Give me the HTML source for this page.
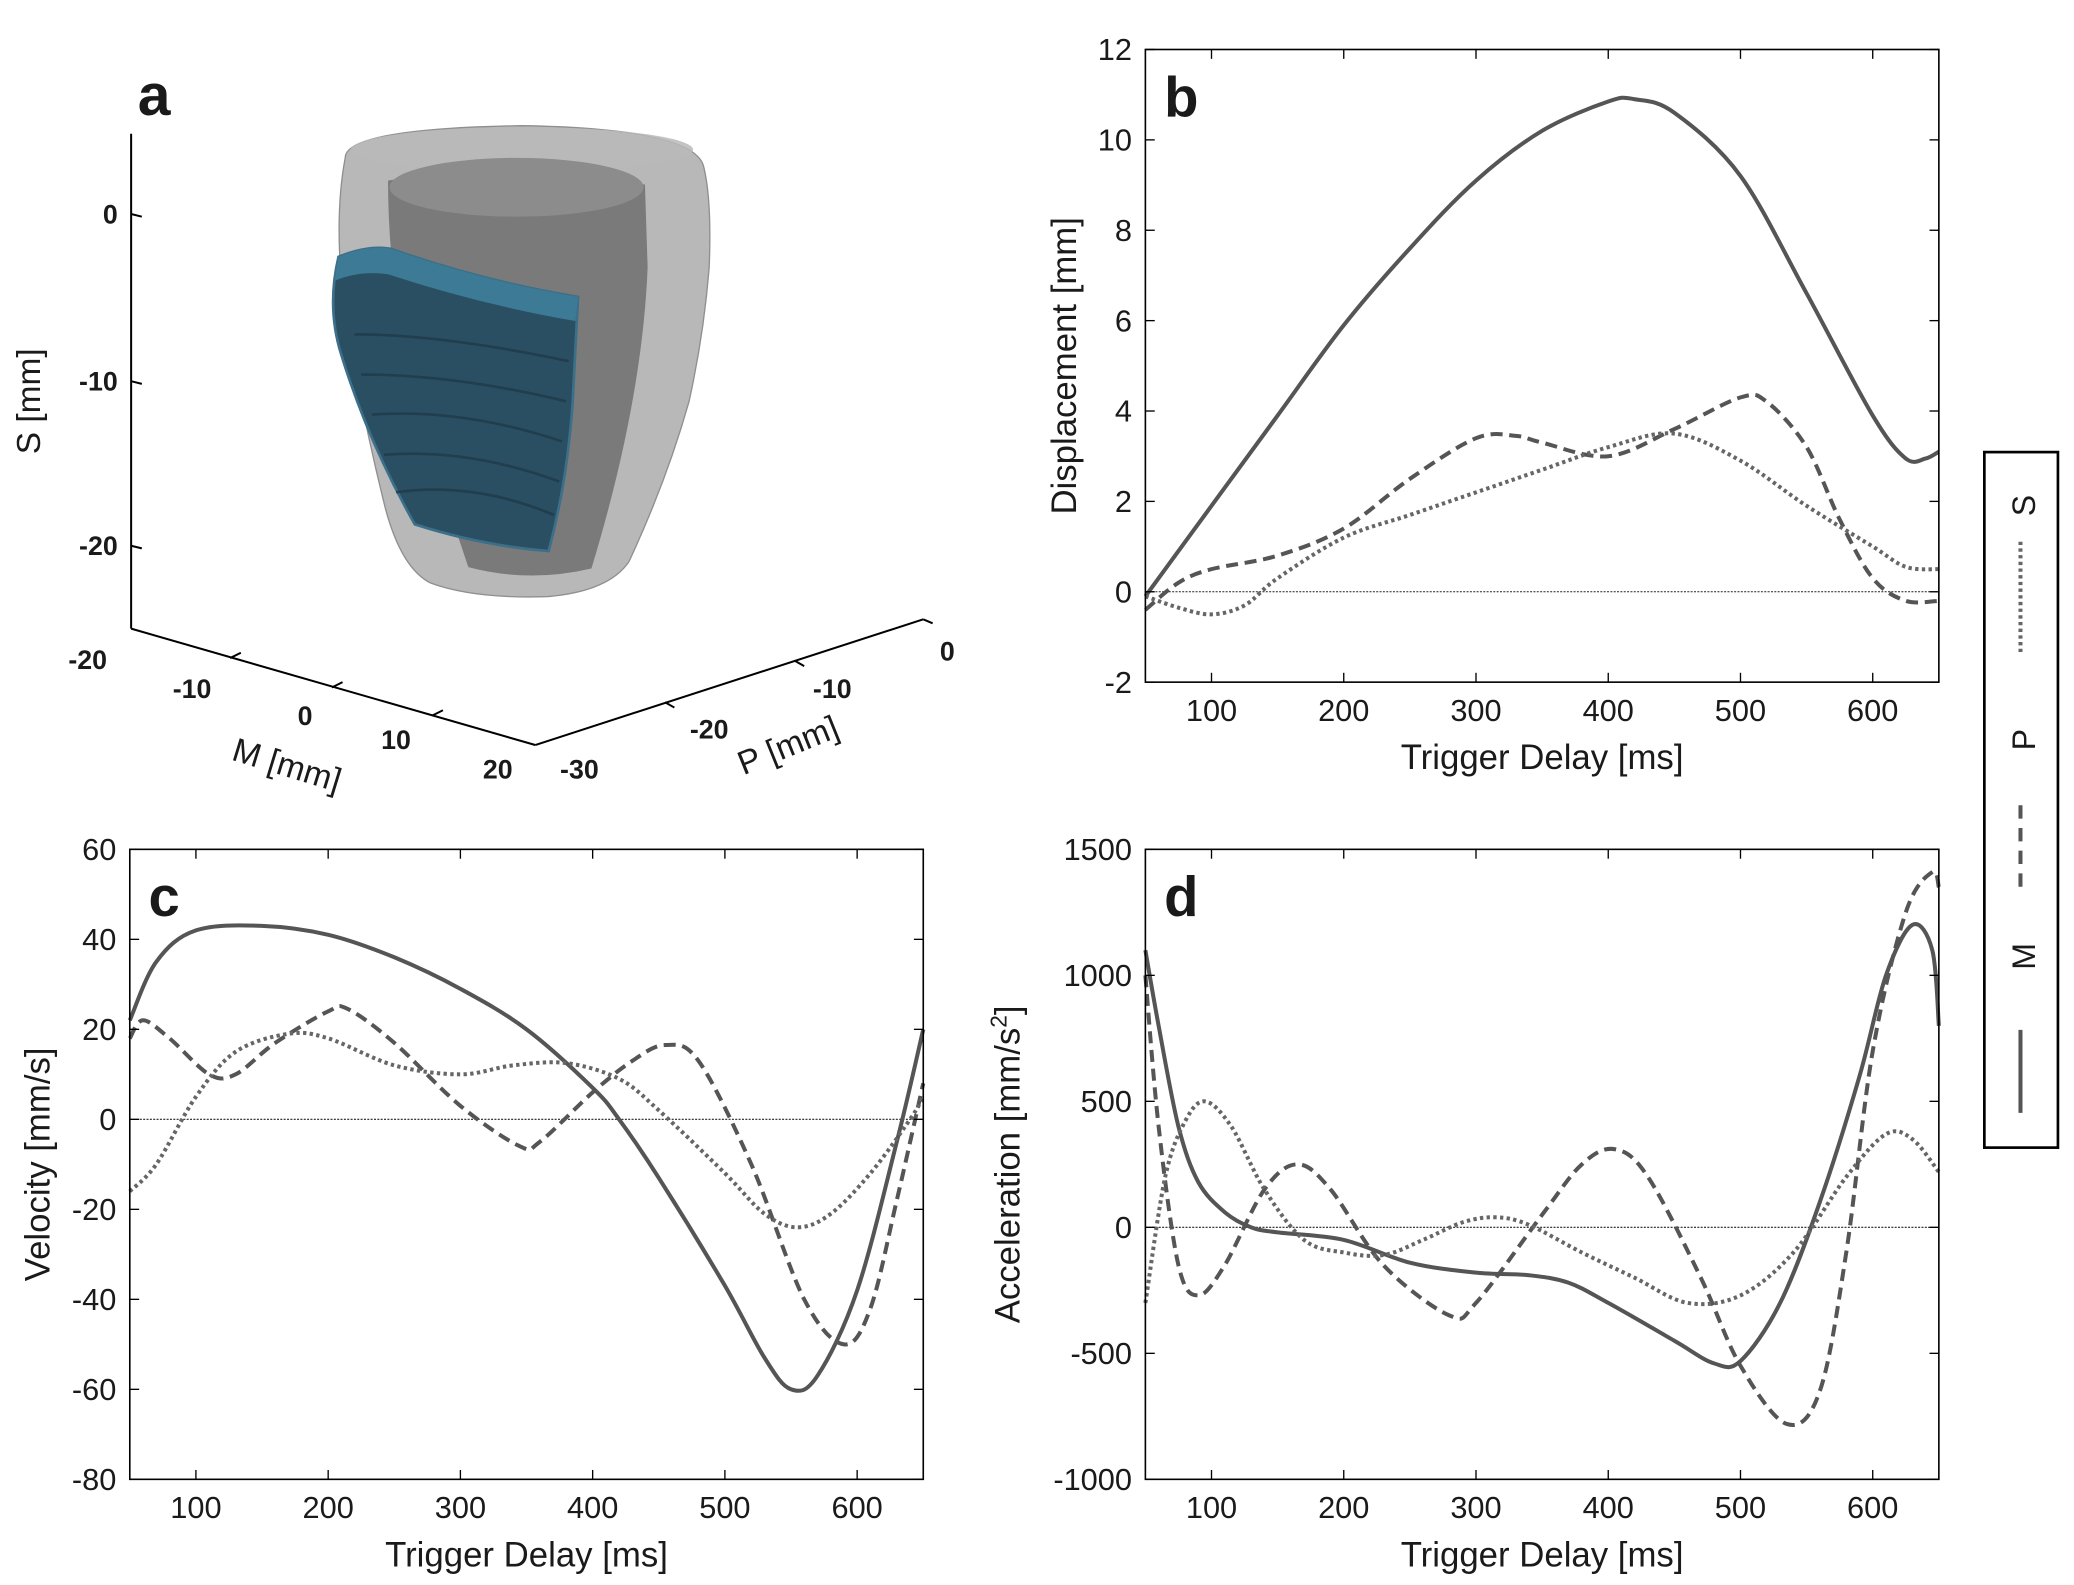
<!DOCTYPE html>
<html><head><meta charset="utf-8"><style>
html,body{margin:0;padding:0;background:#fff;width:2074px;height:1585px;overflow:hidden}
svg{display:block}
text{font-family:"Liberation Sans",Arial,sans-serif;fill:#1a1a1a}
</style></head><body>
<svg id="fig" width="2074" height="1585" viewBox="0 0 1550 1185" preserveAspectRatio="none" xmlns="http://www.w3.org/2000/svg">
<g id="panelA">
  <text x="103" y="86" font-size="44" font-weight="bold">a</text>
  <path d="M258,118 Q258,96 390,94 Q520,96 526,125 Q532,150 530,200 Q526,250 515,300 Q498,360 470,420 Q455,442 410,446 Q355,448 322,436 Q300,425 288,380 Q268,300 256,220 Q250,160 258,118 Z" fill="#a6a6a6" fill-opacity="0.8" stroke="#8f8f8f"/>
  <ellipse cx="390" cy="112" rx="128" ry="17" fill="#b8b8b8" opacity="0.85"/>
  <path d="M290,135 Q385,118 482,138 L484,200 Q480,300 442,425 Q395,436 350,424 Q318,330 300,250 Q290,190 290,135 Z" fill="#6e6e6e" fill-opacity="0.85"/>
  <ellipse cx="386" cy="140" rx="95" ry="22" fill="#8c8c8c"/>
  <path d="M253,192 Q275,183 292,186 Q360,210 432,222 L428,300 Q424,360 410,412 Q360,408 310,392 Q275,330 255,265 Q244,230 253,192 Z" fill="#2b4f62" stroke="#3c6f89" stroke-width="2"/>
  <path d="M253,192 Q275,183 292,186 Q360,210 432,222 L430,240 Q360,228 290,205 Q268,202 250,210 Z" fill="#3d7a96"/>
  <g stroke="#1f3a48" stroke-width="2" fill="none" opacity="0.8">
    <path d="M265,250 Q330,250 425,270"/><path d="M270,280 Q340,280 423,300"/><path d="M278,310 Q345,305 420,330"/><path d="M287,340 Q350,335 418,360"/><path d="M296,368 Q355,360 414,385"/>
  </g>
  <g stroke="#000" stroke-width="1.5" fill="none">
    <line x1="98" y1="100" x2="98" y2="470"/>
    <line x1="98" y1="470" x2="400" y2="557"/>
    <line x1="400" y1="557" x2="690" y2="463"/>
    <line x1="98" y1="160" x2="106" y2="162"/><line x1="98" y1="285" x2="106" y2="287"/><line x1="98" y1="408" x2="106" y2="410"/>
    <line x1="172" y1="492" x2="180" y2="488"/><line x1="248" y1="514" x2="256" y2="510"/><line x1="323" y1="535" x2="331" y2="531"/>
    <line x1="497" y1="525" x2="504" y2="529"/><line x1="594" y1="494" x2="601" y2="498"/><line x1="690" y1="463" x2="697" y2="466"/>
  </g>
  <g font-size="20" font-weight="bold">
    <text x="88" y="167" text-anchor="end">0</text>
    <text x="88" y="292" text-anchor="end">-10</text>
    <text x="88" y="415" text-anchor="end">-20</text>
    <text x="80" y="500" text-anchor="end">-20</text>
    <text x="158" y="522" text-anchor="end">-10</text>
    <text x="228" y="542" text-anchor="middle">0</text>
    <text x="296" y="560" text-anchor="middle">10</text>
    <text x="372" y="582" text-anchor="middle">20</text>
    <text x="433" y="582" text-anchor="middle">-30</text>
    <text x="530" y="552" text-anchor="middle">-20</text>
    <text x="622" y="522" text-anchor="middle">-10</text>
    <text x="708" y="494" text-anchor="middle">0</text>
  </g>
  <text transform="translate(30,300) rotate(-90)" font-size="25" text-anchor="middle">S [mm]</text>
  <text transform="translate(212,580) rotate(17)" font-size="25" text-anchor="middle">M [mm]</text>
  <text transform="translate(592,565) rotate(-22)" font-size="25" text-anchor="middle">P [mm]</text>
</g>
<g id="plots"></g>
<g id="legend">
  <rect x="1483" y="338" width="55" height="520" fill="#fff" stroke="#000" stroke-width="2"/>
  <line x1="1510" y1="770" x2="1510" y2="832" stroke="#555" stroke-width="3"/>
  <text transform="translate(1521,715) rotate(-90)" font-size="24" text-anchor="middle">M</text>
  <line x1="1510" y1="602" x2="1510" y2="666" stroke="#555" stroke-width="3" stroke-dasharray="10,7"/>
  <text transform="translate(1521,553) rotate(-90)" font-size="24" text-anchor="middle">P</text>
  <line x1="1510" y1="405" x2="1510" y2="490" stroke="#666" stroke-width="3" stroke-dasharray="2.5,2.5"/>
  <text transform="translate(1521,378) rotate(-90)" font-size="24" text-anchor="middle">S</text>
</g>
</svg>
<script>
const xTicks = [100,200,300,400,500,600];
const dispTicks = [-2,0,2,4,6,8,10,12];
const velTicks = [-80,-60,-40,-20,0,20,40,60];
const accTicks = [-1000,-500,0,500,1000,1500];

const dispMx = [50,100,150,200,250,300,350,400,420,450,500,550,600,625,640,650];
const dispM  = [-0.1,1.9,3.9,5.9,7.6,9.1,10.2,10.85,10.9,10.6,9.2,6.6,3.9,2.95,2.95,3.1];
const dispPx = [50,75,100,150,200,250,300,330,350,400,450,500,520,550,575,600,625,650];
const dispP  = [-0.4,0.2,0.5,0.8,1.4,2.5,3.4,3.45,3.3,3.0,3.6,4.3,4.2,3.2,1.6,0.3,-0.2,-0.2];
const dispSx = [50,75,100,125,150,200,250,300,350,400,450,500,550,600,625,650];
const dispS  = [-0.1,-0.35,-0.5,-0.3,0.3,1.2,1.7,2.2,2.7,3.2,3.5,2.9,1.9,1.0,0.55,0.5];

const velMx = [50,70,100,150,200,250,300,350,400,420,450,500,530,550,570,600,630,650];
const velM  = [22,35,42,43,41,36,29,20,7,0,-13,-37,-53,-60,-57,-38,-5,20];
const velPx = [50,60,80,110,130,160,200,215,250,300,345,360,400,430,455,480,520,560,590,610,630,650];
const velP  = [18,22,18,10,10,17,24,24.5,17,3,-6,-5,6,13,16.5,13,-10,-40,-50,-42,-18,8];
const velSx = [50,70,100,130,170,200,250,300,340,380,420,450,500,530,555,580,610,640,650];
const velS  = [-16,-10,5,15,19,18,12,10,12,12.5,9,2,-12,-21,-24,-21,-12,0,5];

const accMx = [50,60,75,90,110,130,150,200,250,300,340,370,400,450,480,500,530,560,590,610,630,645,650];
const accM  = [1100,800,400,180,60,0,-20,-50,-140,-180,-190,-220,-300,-450,-540,-530,-300,100,600,1000,1200,1100,800];
const accPx = [50,60,75,90,110,140,165,190,230,280,300,350,380,405,430,470,500,535,560,580,600,625,645,650];
const accP  = [1000,400,-150,-270,-150,150,250,150,-150,-350,-300,50,250,310,200,-200,-550,-780,-650,-100,700,1250,1410,1350];
const accSx = [50,65,80,95,115,140,170,200,230,260,290,315,340,380,420,460,500,540,580,610,630,650];
const accS  = [-300,200,420,500,400,150,-50,-100,-110,-50,20,40,10,-100,-200,-300,-270,-100,200,370,350,220];

const NS='http://www.w3.org/2000/svg';
const root=document.getElementById('plots');
function mk(tag,attrs,parent){const e=document.createElementNS(NS,tag);for(const k in attrs)e.setAttribute(k,attrs[k]);parent.appendChild(e);return e;}
function smooth(pts){let d='M'+pts[0][0].toFixed(1)+','+pts[0][1].toFixed(1);
  for(let i=0;i<pts.length-1;i++){const p0=pts[Math.max(i-1,0)],p1=pts[i],p2=pts[i+1],p3=pts[Math.min(i+2,pts.length-1)];
    const c1=[p1[0]+(p2[0]-p0[0])/6,p1[1]+(p2[1]-p0[1])/6],c2=[p2[0]-(p3[0]-p1[0])/6,p2[1]-(p3[1]-p1[1])/6];
    d+=' C'+c1[0].toFixed(1)+','+c1[1].toFixed(1)+' '+c2[0].toFixed(1)+','+c2[1].toFixed(1)+' '+p2[0].toFixed(1)+','+p2[1].toFixed(1);}
  return d;}
function panel(cfg){
  const g=mk('g',{},root);
  
  
  const L=cfg.x0,R=cfg.x1,T=cfg.y0,B=cfg.y1;
  const sx=v=>L+(v-50)/600*(R-L);
  const sy=v=>B-(v-cfg.ymin)/(cfg.ymax-cfg.ymin)*(B-T);
  const zl=mk('line',{x1:L,x2:R,y1:sy(0),y2:sy(0),stroke:'#222','stroke-width':0.8,'stroke-dasharray':'1.5,1'},g);
  
  
  const series=[[cfg.mx,cfg.m,'none'],[cfg.px,cfg.p,'9,5'],[cfg.sx,cfg.s,'2.5,2.5']];
  const names=['m','p','s'];
  series.forEach((s,i)=>{
    const pts=s[0].map((x,j)=>[sx(x),sy(s[1][j])]);
    const attrs={d:smooth(pts),fill:'none',stroke:i==2?'#666':'#555','stroke-width':3};
    if(s[2]!=='none')attrs['stroke-dasharray']=s[2];
    const p=mk('path',attrs,g);
    
    
  });
  const box=mk('rect',{x:L,y:T,width:R-L,height:B-T,fill:'none',stroke:'#000','stroke-width':1.2},g);
  
  
  xTicks.forEach(t=>{const x=sx(t);
    mk('line',{x1:x,x2:x,y1:B,y2:B-7,stroke:'#000','stroke-width':1},g);
    mk('line',{x1:x,x2:x,y1:T,y2:T+7,stroke:'#000','stroke-width':1},g);
    const tx=mk('text',{x:x,y:B+29,'font-size':23,'text-anchor':'middle'},g);tx.textContent=t;
    
    
  });
  cfg.ticks.forEach(t=>{const y=sy(t);
    mk('line',{x1:L,x2:L+7,y1:y,y2:y,stroke:'#000','stroke-width':1},g);
    mk('line',{x1:R,x2:R-7,y1:y,y2:y,stroke:'#000','stroke-width':1},g);
    const tx=mk('text',{x:L-10,y:y+8,'font-size':23,'text-anchor':'end'},g);tx.textContent=t;
    
    
  });
  const xt=mk('text',{x:(L+R)/2,y:B+65,'font-size':26,'text-anchor':'middle'},g);xt.textContent='Trigger Delay [ms]';
  
  
  const yt=mk('text',{transform:'translate('+cfg.ytx+','+(T+B)/2+') rotate(-90)','font-size':26,'text-anchor':'middle'},g);
  yt.innerHTML=cfg.ytitle;
  
  
  const lb=mk('text',{x:L+14,y:T+50,'font-size':42,'font-weight':'bold'},g);lb.textContent=cfg.label;
  
  
}
panel({name:'panel-b-displacement',label:'b',x0:856,x1:1449,y0:37,y1:510,ymin:-2,ymax:12,ticks:dispTicks,ytx:804,ytitle:'Displacement [mm]',mx:dispMx,m:dispM,px:dispPx,p:dispP,sx:dispSx,s:dispS});
panel({name:'panel-c-velocity',label:'c',x0:97,x1:690,y0:635,y1:1106,ymin:-80,ymax:60,ticks:velTicks,ytx:37,ytitle:'Velocity [mm/s]',mx:velMx,m:velM,px:velPx,p:velP,sx:velSx,s:velS});
panel({name:'panel-d-acceleration',label:'d',x0:856,x1:1449,y0:635,y1:1106,ymin:-1000,ymax:1500,ticks:accTicks,ytx:762,ytitle:'Acceleration [mm/s<tspan baseline-shift="super" font-size="17">2</tspan>]',mx:accMx,m:accM,px:accPx,p:accP,sx:accSx,s:accS});
</script>
</body></html>
